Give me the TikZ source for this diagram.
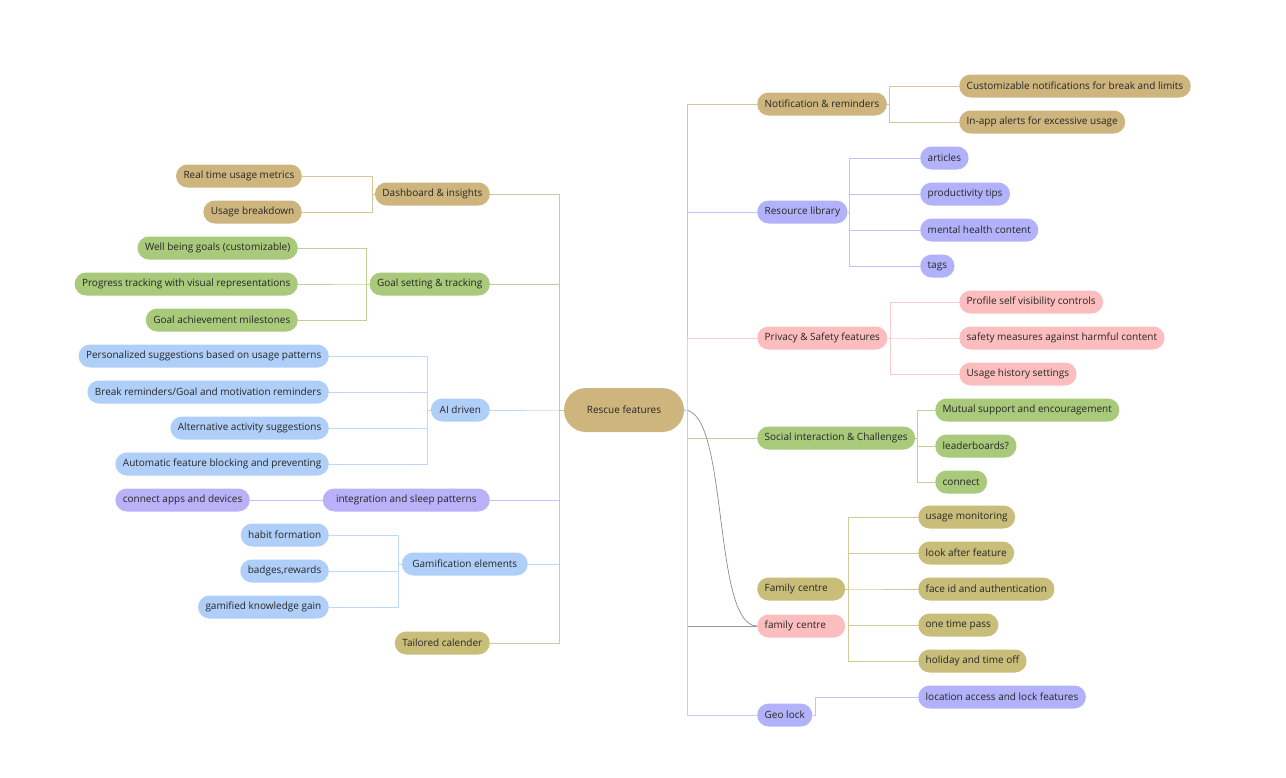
\documentclass[tikz,border=0pt]{standalone}
\usepackage{fontspec}
\setmainfont{Open Sans}

\definecolor{tanfill}{RGB}{206,181,126}
\definecolor{olivefill}{RGB}{201,189,122}
\definecolor{greenfill}{RGB}{169,201,123}
\definecolor{bluefill}{RGB}{175,207,248}
\definecolor{lavfill}{RGB}{178,178,250}
\definecolor{purpfill}{RGB}{186,178,248}
\definecolor{pinkfill}{RGB}{251,189,189}

\tikzset{
	pill/.style={rounded corners=11.5pt, minimum height=23pt, inner xsep=7.5pt, inner ysep=0pt,
		font=\fontsize{10}{12}\selectfont, text=black!85},
	link/.style={line width=0.7pt},
}

\begin{document}
\begin{tikzpicture}[x=1pt,y=-1pt]
					% canvas
					\useasboundingbox[fill=white] (0,0) rectangle (1286,777);
					
					\def\xl{490}  % right edge of left branches
					\def\xr{757}  % left edge of right branches
					
					% centre
					\node[pill, fill=tanfill, minimum width=120pt, minimum height=44pt, rounded corners=22pt] (root) at (624,410) {Rescue features};
					
					% right branches
					\node[pill, fill=tanfill, anchor=west] (notif) at (\xr,104) {Notification \& reminders};
					\node[pill, fill=lavfill, anchor=west] (reslib) at (\xr,212) {Resource library};
					\node[pill, fill=pinkfill, anchor=west] (privacy) at (\xr,338) {Privacy \& Safety features};
					\node[pill, fill=greenfill, anchor=west] (social) at (\xr,438) {Social interaction \& Challenges};
					\node[pill, fill=olivefill, anchor=west, text width=73pt, align=left] (famc) at (\xr,589) {Family centre};
					\node[pill, fill=pinkfill, anchor=west, text width=73pt, align=left] (famp) at (\xr,626) {family centre};
					\node[pill, fill=lavfill, anchor=west] (geolock) at (\xr,715) {Geo lock};
					
					\node[pill, fill=tanfill, anchor=west] (custnot) at (959,86) {Customizable notifications for break and limits};
					\node[pill, fill=tanfill, anchor=west] (inapp) at (959,122) {In-app alerts for excessive usage};
					
					\node[pill, fill=lavfill, anchor=west] (articles) at (920,158) {articles};
					\node[pill, fill=lavfill, anchor=west] (prodtips) at (920,194) {productivity tips};
					\node[pill, fill=lavfill, anchor=west] (mental) at (920,230) {mental health content};
					\node[pill, fill=lavfill, anchor=west] (tags) at (920,266) {tags};
					
					\node[pill, fill=pinkfill, anchor=west] (profile) at (959,302) {Profile self visibility controls};
					\node[pill, fill=pinkfill, anchor=west] (safety) at (959,338) {safety measures against harmful content};
					\node[pill, fill=pinkfill, anchor=west] (history) at (959,374) {Usage history settings};
					
					\node[pill, fill=greenfill, anchor=west] (mutual) at (935,410) {Mutual support and encouragement};
					\node[pill, fill=greenfill, anchor=west] (leader) at (935,446) {leaderboards?};
					\node[pill, fill=greenfill, anchor=west] (connect) at (935,482) {connect};
					
					\node[pill, fill=olivefill, anchor=west] (usagemon) at (918,517) {usage monitoring};
					\node[pill, fill=olivefill, anchor=west] (lookafter) at (918,553) {look after feature};
					\node[pill, fill=olivefill, anchor=west] (faceid) at (918,589) {face id and authentication};
					\node[pill, fill=olivefill, anchor=west] (onetime) at (918,625) {one time pass};
					\node[pill, fill=olivefill, anchor=west] (holiday) at (918,661) {holiday and time off};
					
					\node[pill, fill=lavfill, anchor=west] (location) at (918,697) {location access and lock features};
					
					% left branches
					\node[pill, fill=tanfill, anchor=east] (dash) at (\xl,194) {Dashboard \& insights};
					\node[pill, fill=greenfill, anchor=east] (goal) at (\xl,284) {Goal setting \& tracking};
					\node[pill, fill=bluefill, anchor=east, minimum width=59pt] (aidrv) at (\xl,410) {AI driven};
					\node[pill, fill=purpfill, anchor=east, minimum width=167pt] (integ) at (\xl,500) {integration and sleep patterns};
					\node[pill, fill=bluefill, anchor=east, minimum width=126pt] (gamif) at (528,564) {Gamification elements};
					\node[pill, fill=olivefill, anchor=east] (calender) at (\xl,643) {Tailored calender};
					
					\node[pill, fill=tanfill, anchor=east] (realtime) at (302,176) {Real time usage metrics};
					\node[pill, fill=tanfill, anchor=east] (breakdown) at (302,212) {Usage breakdown};
					
					\node[pill, fill=greenfill, anchor=east] (wellbeing) at (298,248) {Well being goals (customizable)};
					\node[pill, fill=greenfill, anchor=east] (progress) at (298,284) {Progress tracking with visual representations};
					\node[pill, fill=greenfill, anchor=east] (milestone) at (298,320) {Goal achievement milestones};
					
					\node[pill, fill=bluefill, anchor=east] (personal) at (329,356) {Personalized suggestions based on usage patterns};
					\node[pill, fill=bluefill, anchor=east] (breakrem) at (329,392) {Break reminders/Goal and motivation reminders};
					\node[pill, fill=bluefill, anchor=east] (altact) at (329,428) {Alternative activity suggestions};
					\node[pill, fill=bluefill, anchor=east] (autoblock) at (329,464) {Automatic feature blocking and preventing};
					
					\node[pill, fill=purpfill, anchor=east] (apps) at (250,500) {connect apps and devices};
					
					\node[pill, fill=bluefill, anchor=east] (habit) at (329,535) {habit formation};
					\node[pill, fill=bluefill, anchor=east] (badges) at (329,571) {badges,rewards};
					\node[pill, fill=bluefill, anchor=east] (gamknow) at (329,607) {gamified knowledge gain};
					
					% connectors right
					\draw[link, tanfill!80] (root.east) -- ++(3,0) |- (notif.west);
					\draw[link, lavfill!80] (root.east) -- ++(3,0) |- (reslib.west);
					\draw[link, pinkfill!80] (root.east) -- ++(3,0) |- (privacy.west);
					\draw[link, greenfill!80] (root.east) -- ++(3,0) |- (social.west);
					\draw[link, black!40] (root.east) -- ++(3,0) |- (famp.west);
					\draw[link, black!45] (root.east) .. controls +(45,0) and +(-45,0) .. (famp.west);
					\draw[link, lavfill!70] (root.east) -- ++(3,0) |- (geolock.west);
					
					\foreach \c in {custnot, inapp}
					\draw[link, tanfill!80] (notif.east) -- ++(2,0) |- (\c.west);
					\foreach \c in {articles, prodtips, mental, tags}
					\draw[link, lavfill!80] (reslib.east) -- ++(2,0) |- (\c.west);
					\foreach \c in {profile, safety, history}
					\draw[link, pinkfill!80] (privacy.east) -- ++(3,0) |- (\c.west);
					\foreach \c in {mutual, leader, connect}
					\draw[link, greenfill!80] (social.east) -- ++(2,0) |- (\c.west);
					\foreach \c in {usagemon, lookafter, faceid, onetime, holiday}
					\draw[link, olivefill!80] (famc.east) -- ++(3,0) |- (\c.west);
					\draw[link, lavfill!80] (geolock.east) -- ++(3,0) |- (location.west);
					
					% connectors left
					\draw[link, tanfill!80] (root.west) -- ++(-4,0) |- (dash.east);
					\draw[link, greenfill!80] (root.west) -- ++(-4,0) |- (goal.east);
					\draw[link, bluefill!80] (root.west) -- ++(-4,0) |- (aidrv.east);
					\draw[link, purpfill!80] (root.west) -- ++(-4,0) |- (integ.east);
					\draw[link, bluefill!80] (root.west) -- ++(-4,0) |- (gamif.east);
					\draw[link, olivefill!80] (root.west) -- ++(-4,0) |- (calender.east);
					
					\foreach \c in {realtime, breakdown}
					\draw[link, tanfill!80] (dash.west) -- ++(-2,0) |- (\c.east);
					\foreach \c in {wellbeing, progress, milestone}
					\draw[link, greenfill!80] (goal.west) -- ++(-3,0) |- (\c.east);
					\foreach \c in {personal, breakrem, altact, autoblock}
					\draw[link, bluefill!80] (aidrv.west) -- ++(-3,0) |- (\c.east);
					\draw[link, purpfill!80] (integ.west) -- (apps.east);
					\foreach \c in {habit, badges, gamknow}
					\draw[link, bluefill!80] (gamif.west) -- ++(-3,0) |- (\c.east);
\end{tikzpicture}
\end{document}
